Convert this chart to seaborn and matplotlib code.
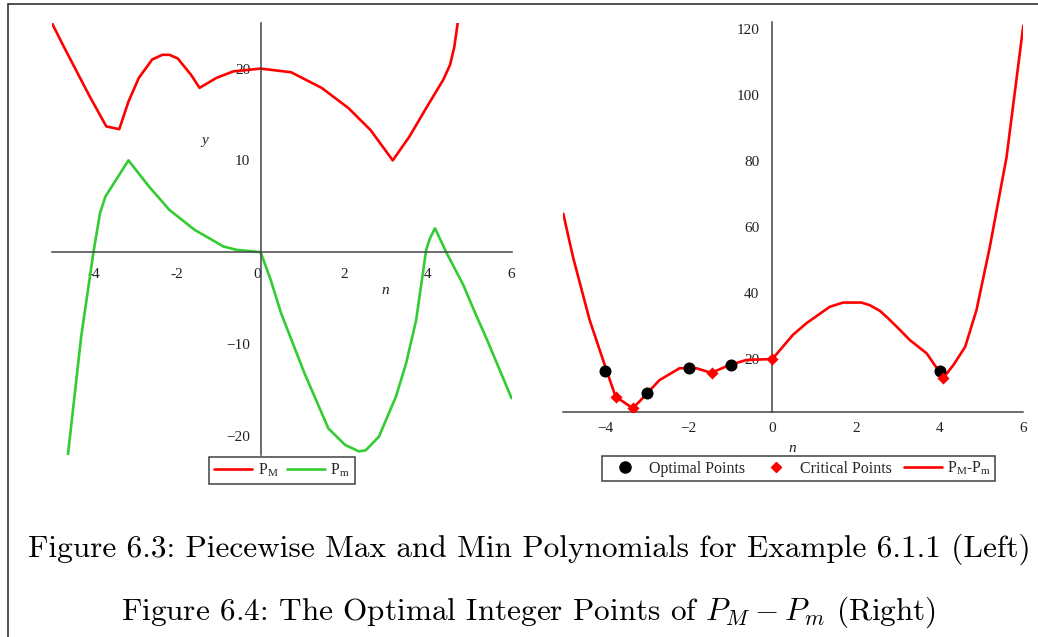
import numpy as np
import pandas as pd
import matplotlib
matplotlib.use("Agg")
import matplotlib.pyplot as plt
import seaborn as sns
from matplotlib.lines import Line2D
from matplotlib.ticker import MultipleLocator, FixedLocator

# ---------------- data ----------------
pmax_n = [-5.0, -4.73, -4.09, -3.69, -3.38, -3.16, -2.91, -2.59, -2.35, -2.18, -1.98,
          -1.66, -1.46, -1.05, -0.65, 0.0, 0.73, 1.46, 2.10, 2.63, 3.16, 3.56, 3.96,
          4.37, 4.53, 4.63, 4.73]
pmax_y = [25.05, 22.6, 17.0, 13.7, 13.4, 16.4, 19.0, 21.0, 21.5, 21.5, 21.1,
          19.3, 17.9, 19.0, 19.7, 20.0, 19.6, 17.9, 15.7, 13.3, 10.0, 12.6, 15.7,
          18.8, 20.4, 22.3, 25.5]

pmin_n = [-4.61, -4.29, -4.0, -3.84, -3.71, -3.16, -2.67, -2.18, -1.58, -0.89, -0.57,
          0.0, 0.24, 0.49, 1.05, 1.62, 2.02, 2.35, 2.51, 2.83, 3.24, 3.48, 3.72, 3.96,
          4.05, 4.17, 4.45, 4.85, 5.10, 5.42, 6.0]
pmin_y = [-22.2, -9.2, -0.1, 4.25, 6.07, 10.0, 7.16, 4.6, 2.44, 0.62, 0.25,
          0.0, -3.0, -6.65, -13.2, -19.2, -21.0, -21.7, -21.6, -20.1, -15.7, -12.1, -7.4, 0.25,
          1.5, 2.6, -0.1, -3.6, -6.3, -9.6, -15.9]

diff_n = [-5.0, -4.77, -4.37, -3.97, -3.75, -3.34, -3.18, -2.70, -2.22, -1.82, -1.46,
          -1.02, -0.62, 0.0, 0.49, 0.81, 1.37, 1.69, 2.13, 2.33, 2.57, 2.77, 3.05, 3.29,
          3.69, 4.09, 4.33, 4.61, 4.88, 5.20, 5.60, 6.0]
diff_y = [64.0, 51.0, 31.8, 16.7, 8.6, 5.1, 7.1, 13.6, 17.2, 17.2, 15.8,
          18.2, 19.7, 20.0, 27.3, 30.8, 35.8, 37.1, 37.1, 36.3, 34.6, 32.3, 28.8, 25.7,
          21.7, 14.3, 18.2, 23.7, 34.8, 54.0, 81.2, 121.0]

opt_n = [-4, -3, -2, -1, 4]
opt_y = [16.5, 9.6, 17.2, 18.2, 16.5]

crit_n = [-3.75, -3.34, -1.45, 0.0, 4.09]
crit_y = [8.6, 5.1, 15.9, 20.0, 14.3]

left_xticks = [-4, -2, 0, 2, 4, 6]
left_yticks = [-20, -10, 10, 20]
right_xticks = [-4, -2, 0, 2, 4, 6]
right_yticks = [20, 40, 60, 80, 100, 120]

caption1 = "Figure 6.3: Piecewise Max and Min Polynomials for Example 6.1.1 (Left)"
caption2 = r"Figure 6.4: The Optimal Integer Points of $P_M - P_m$ (Right)"

# ---------------- style ----------------
sns.set_theme(style="white")
plt.rcParams["font.family"] = ["Liberation Serif", "DejaVu Serif"]
plt.rcParams["mathtext.fontset"] = "stix"
plt.rcParams["axes.unicode_minus"] = True

RED = "#ff0000"
GREEN = "#33cc33"
AX = "#444444"
TXT = "#222222"
W, H = 1038, 637

fig = plt.figure(figsize=(W / 100, H / 100), dpi=100)
fig.patch.set_facecolor("white")


def px_axes(x0, x1, ytop, ybot):
    return fig.add_axes([x0 / W, 1 - ybot / H, (x1 - x0) / W, (ybot - ytop) / H])


# ---------------- left plot ----------------
axL = px_axes(51.5, 511.5, 22.7, 455)
dfM = pd.DataFrame({"n": pmax_n, "y": pmax_y})
dfm = pd.DataFrame({"n": pmin_n, "y": pmin_y})
sns.lineplot(data=dfM, x="n", y="y", sort=False, estimator=None, color=RED,
             linewidth=1.9, ax=axL, label=r"$\mathregular{P_M}$")
sns.lineplot(data=dfm, x="n", y="y", sort=False, estimator=None, color=GREEN,
             linewidth=1.9, ax=axL, label=r"$\mathregular{P_m}$")
axL.set_xlim(-5, 6)
axL.set_ylim(-22.1, 25)
for s in ["top", "right"]:
    axL.spines[s].set_visible(False)
axL.spines["left"].set_position(("data", 0))
axL.spines["bottom"].set_position(("data", 0))
for s in ["left", "bottom"]:
    axL.spines[s].set_color(AX)
    axL.spines[s].set_linewidth(1.1)
axL.xaxis.set_major_locator(FixedLocator(left_xticks))
axL.xaxis.set_minor_locator(MultipleLocator(1))
axL.yaxis.set_major_locator(FixedLocator(left_yticks))
axL.yaxis.set_minor_locator(FixedLocator([-15, -5, 5, 15]))
axL.tick_params(which="both", direction="out", length=4.5, width=1, color=AX,
                labelsize=11, labelcolor=TXT)
axL.tick_params(axis="x", which="major", pad=7)
axL.tick_params(axis="y", which="major", pad=3)
axL.set_xticklabels([str(v) for v in left_xticks])
for lab in axL.get_xticklabels():
    if lab.get_text() == "0":
        lab.set_horizontalalignment("right")
axL.set_xlabel("n", fontstyle="italic", fontsize=11, color=TXT)
axL.xaxis.set_label_coords(0.725, 0.396)
axL.set_ylabel("y", fontstyle="italic", fontsize=11, rotation=0, color=TXT)
axL.yaxis.set_label_coords(0.334, 0.713)
axL.set_facecolor("none")
legL = axL.legend(loc="upper center", bbox_to_anchor=(282 / W, 1 - 457 / H),
                  bbox_transform=fig.transFigure, ncol=2, frameon=True, fancybox=False,
                  edgecolor="#111111", fontsize=11.5, handlelength=2.4, handletextpad=0.35,
                  columnspacing=0.5, borderpad=0.3, borderaxespad=0)
legL.get_frame().set_linewidth(1.1)

# ---------------- right plot ----------------
axR = px_axes(563.3, 1023.3, 21.7, 412)
dfD = pd.DataFrame({"n": diff_n, "y": diff_y})
dfO = pd.DataFrame({"n": opt_n, "y": opt_y})
dfC = pd.DataFrame({"n": crit_n, "y": crit_y})
sns.lineplot(data=dfD, x="n", y="y", sort=False, estimator=None, color=RED,
             linewidth=1.9, ax=axR, zorder=2)
sns.scatterplot(data=dfO, x="n", y="y", color="black", s=75, marker="o",
                linewidth=0, ax=axR, zorder=3)
sns.scatterplot(data=dfC, x="n", y="y", color=RED, s=38, marker="D",
                linewidth=0, ax=axR, zorder=4)
axR.set_xlim(-5, 6)
axR.set_ylim(3.94, 122.2)
for s in ["top", "right"]:
    axR.spines[s].set_visible(False)
axR.spines["left"].set_position(("data", 0))
for s in ["left", "bottom"]:
    axR.spines[s].set_color(AX)
    axR.spines[s].set_linewidth(1.1)
axR.xaxis.set_major_locator(FixedLocator(right_xticks))
axR.xaxis.set_minor_locator(MultipleLocator(1))
axR.yaxis.set_major_locator(FixedLocator(right_yticks))
axR.yaxis.set_minor_locator(FixedLocator([10, 30, 50, 70, 90, 110]))
axR.tick_params(which="major", direction="out", length=5, width=1, color=AX,
                labelsize=11, labelcolor=TXT)
axR.tick_params(which="minor", direction="out", length=3, width=1, color=AX)
axR.tick_params(axis="x", which="minor", length=4.5)
axR.tick_params(axis="x", which="major", length=4.5, pad=3)
axR.tick_params(axis="y", which="major", pad=4.5)
axR.set_xlabel("n", fontstyle="italic", fontsize=11, color=TXT)
axR.xaxis.set_label_coords(0.497, -0.077)
axR.set_ylabel("")
axR.set_facecolor("none")
hR = [Line2D([], [], linestyle="none", marker="o", color="black", markersize=8),
      Line2D([], [], linestyle="none", marker="D", color=RED, markersize=5),
      Line2D([], [], color=RED, linewidth=1.9)]
legR = axR.legend(hR, ["Optimal Points", "Critical Points", r"$\mathregular{P_M\text{-}P_m}$"],
                  loc="upper center", bbox_to_anchor=(798.5 / W, 1 - 456 / H),
                  bbox_transform=fig.transFigure, ncol=3, frameon=True, fancybox=False,
                  edgecolor="#111111", fontsize=11.5, handlelength=2.4, handletextpad=0.3,
                  columnspacing=0.75, borderpad=0.25, borderaxespad=0)
legR.get_frame().set_linewidth(1.1)

# ---------------- page frame & captions ----------------
fig.add_artist(Line2D([8 / W, 8 / W], [0, 1 - 4 / H], transform=fig.transFigure,
                      color="#333333", linewidth=1.2))
fig.add_artist(Line2D([8 / W, 1], [1 - 4 / H, 1 - 4 / H], transform=fig.transFigure,
                      color="#333333", linewidth=1.2))
fig.text(529 / W, 1 - 549 / H, caption1, family="cmr10", fontsize=22.5,
         ha="center", va="center", color="black")
fig.text(529 / W, 1 - 612 / H, caption2, family="cmr10", fontsize=22.5,
         ha="center", va="center", color="black", math_fontfamily="cm")

fig.savefig("out.png", dpi=100, facecolor="white")
